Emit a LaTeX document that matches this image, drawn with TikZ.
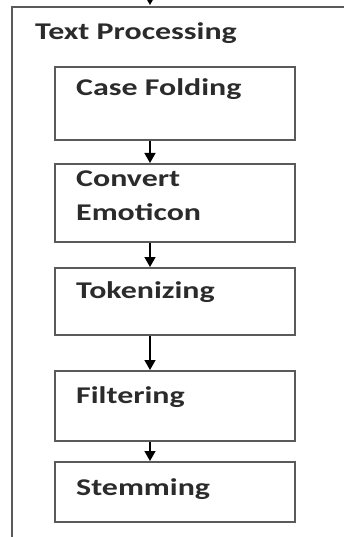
\documentclass[tikz,border=0pt]{standalone}
\usepackage{fontspec}
\newfontfamily\stepfont{Carlito}[FakeStretch=1.33]
\usetikzlibrary{arrows.meta}
\definecolor{frame}{HTML}{5A5A5A}
\definecolor{ink}{HTML}{2B2B2B}
\tikzset{
  stagebox/.style={draw=frame, line width=1.8pt, rectangle, minimum width=240pt,
    inner sep=0pt, anchor=north west},
  stagetext/.style={anchor=base west, inner sep=0pt, text=ink,
    font=\stepfont\bfseries\fontsize{24}{34}\selectfont, align=left},
  flow/.style={line width=1.4pt, -{Triangle[width=11pt,length=10pt]}}
}
\begin{document}
\begin{tikzpicture}[x=1pt,y=-1pt]
  \useasboundingbox (0,0) rectangle (344,537);
  \clip (0,0) rectangle (344,537);
  % outer group frame (runs past the page on the right and bottom)
  \draw[frame, line width=2pt] (12,560) -- (12,7) -- (360,7);
  \node[stagetext] (title) at (35,40) {Text Processing};
  % process stages
  \node[stagebox, minimum height=73pt] (fold) at (54,66) {};
  \node[stagebox, minimum height=78pt] (emo) at (54,163) {};
  \node[stagebox, minimum height=67pt] (tok) at (54,267) {};
  \node[stagebox, minimum height=70pt] (filt) at (54,370) {};
  \node[stagebox, minimum height=60pt] (stem) at (54,461) {};
  \node[stagetext] (tfold) at (76,96) {Case Folding};
  \node[stagetext, anchor=north west] (temo) at (76,171) {Convert\\Emoticon};
  \node[stagetext] (ttok) at (76,298) {Tokenizing};
  \node[stagetext] (tfilt) at (76,403) {Filtering};
  \node[stagetext] (tstem) at (76,495) {Stemming};
  % connectors
  \coordinate (ax) at (150,0);
  \coordinate (in) at (150,-14);
  \coordinate (top) at (150,5);
  \draw[flow] (in) -- (top);
  \draw[flow] (fold.south -| ax) -- (emo.north -| ax);
  \draw[flow] (emo.south -| ax) -- (tok.north -| ax);
  \draw[flow] (tok.south -| ax) -- (filt.north -| ax);
  \draw[flow] (filt.south -| ax) -- (stem.north -| ax);
\end{tikzpicture}
\end{document}
